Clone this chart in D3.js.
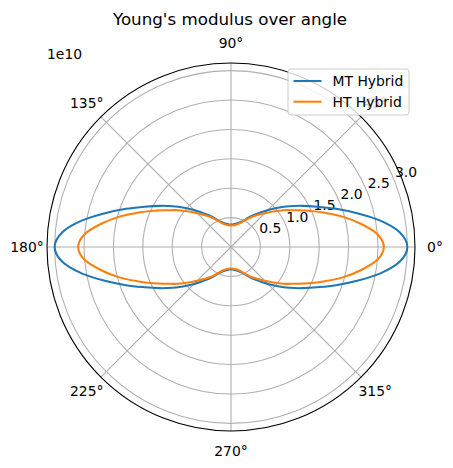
<!DOCTYPE html>
<html>
<head>
<meta charset="utf-8">
<script src="https://cdn.jsdelivr.net/npm/d3@7"></script>
<style>
  body { margin: 0; background: #fff; }
  svg { display: block; font-family: "DejaVu Sans", sans-serif; }
</style>
</head>
<body>
<div id="chart"></div>
<script>
// angles in degrees (ccw from the right), radius in units of 1e10
var angles = d3.range(0, 360, 5);

var mtHybrid = [
  3.00, 2.88, 2.58, 2.22, 1.90, 1.62, 1.40, 1.21, 1.04, 0.89, 0.76, 0.66, 0.57, 0.49, 0.45, 0.42, 0.40, 0.385, 0.38,
  0.385, 0.40, 0.42, 0.45, 0.49, 0.57, 0.66, 0.76, 0.89, 1.04, 1.21, 1.40, 1.62, 1.90, 2.22, 2.58, 2.88,
  3.00, 2.88, 2.58, 2.22, 1.90, 1.62, 1.40, 1.21, 1.04, 0.89, 0.76, 0.66, 0.57, 0.49, 0.45, 0.42, 0.40, 0.385, 0.38,
  0.385, 0.40, 0.42, 0.45, 0.49, 0.57, 0.66, 0.76, 0.89, 1.04, 1.21, 1.40, 1.62, 1.90, 2.22, 2.58, 2.88
];

var htHybrid = [
  2.60, 2.50, 2.25, 1.98, 1.70, 1.46, 1.25, 1.09, 0.94, 0.81, 0.71, 0.63, 0.55, 0.48, 0.43, 0.40, 0.38, 0.37, 0.365,
  0.37, 0.38, 0.40, 0.43, 0.48, 0.55, 0.63, 0.71, 0.81, 0.94, 1.09, 1.25, 1.46, 1.70, 1.98, 2.25, 2.50,
  2.60, 2.50, 2.25, 1.98, 1.70, 1.46, 1.25, 1.09, 0.94, 0.81, 0.71, 0.63, 0.55, 0.48, 0.43, 0.40, 0.38, 0.37, 0.365,
  0.37, 0.38, 0.40, 0.43, 0.48, 0.55, 0.63, 0.71, 0.81, 0.94, 1.09, 1.25, 1.46, 1.70, 1.98, 2.25, 2.50
];

var seriesNames = ["MT Hybrid", "HT Hybrid"];
var seriesColors = ["#1f77b4", "#ff7f0e"];
var rTicks = [0.5, 1.0, 1.5, 2.0, 2.5, 3.0];
var thetaTicks = [0, 45, 90, 135, 180, 225, 270, 315];
var rMax = 3.13;

var width = 453, height = 468,
    cx = 231, cy = 247, outer = 184;

var svg = d3.select("#chart").append("svg")
    .attr("width", width)
    .attr("height", height);

var r = d3.scaleLinear().domain([0, rMax]).range([0, outer]);

// matplotlib angle (deg, ccw from right) -> d3 radial angle (rad, cw from top)
function toRad(deg) { return Math.PI / 2 - deg * Math.PI / 180; }

var g = svg.append("g").attr("transform", "translate(" + cx + "," + cy + ")");

// grid circles
g.selectAll(".rgrid")
    .data(rTicks)
    .enter().append("circle")
    .attr("class", "rgrid")
    .attr("r", function(d) { return r(d); })
    .attr("fill", "none")
    .attr("stroke", "#b0b0b0")
    .attr("stroke-width", 1.1);

// spokes
g.selectAll(".tgrid")
    .data(thetaTicks)
    .enter().append("line")
    .attr("class", "tgrid")
    .attr("x1", 0).attr("y1", 0)
    .attr("x2", function(d) { return outer * Math.cos(d * Math.PI / 180); })
    .attr("y2", function(d) { return -outer * Math.sin(d * Math.PI / 180); })
    .attr("stroke", "#b0b0b0")
    .attr("stroke-width", 1.1);

// angle labels
g.selectAll(".tlabel")
    .data(thetaTicks)
    .enter().append("text")
    .attr("class", "tlabel")
    .attr("x", function(d) { return (outer + 20) * Math.cos(d * Math.PI / 180); })
    .attr("y", function(d) { return -(outer + 20) * Math.sin(d * Math.PI / 180); })
    .attr("dy", "0.35em")
    .attr("text-anchor", "middle")
    .style("font-size", "13.9px")
    .text(function(d) { return d + "°"; });

// radial tick labels at 22.5 deg
var la = 22.5 * Math.PI / 180;
g.selectAll(".rlabel")
    .data(rTicks)
    .enter().append("text")
    .attr("class", "rlabel")
    .attr("x", function(d) { return r(d) * Math.cos(la) + 1; })
    .attr("y", function(d) { return -r(d) * Math.sin(la) - 3; })
    .style("font-size", "13.9px")
    .text(function(d) { return d.toFixed(1); });

// curves
var line = d3.lineRadial()
    .angle(function(d) { return toRad(d[0]); })
    .radius(function(d) { return r(d[1]); })
    .curve(d3.curveCardinalClosed);

[mtHybrid, htHybrid].forEach(function(vals, i) {
  g.append("path")
    .datum(angles.map(function(a, j) { return [a, vals[j]]; }))
    .attr("d", line)
    .attr("fill", "none")
    .attr("stroke", seriesColors[i])
    .attr("stroke-width", 2.08);
});

// outer spine
g.append("circle")
    .attr("r", outer)
    .attr("fill", "none")
    .attr("stroke", "#000")
    .attr("stroke-width", 1.1);

// offset text
svg.append("text")
    .attr("x", 47).attr("y", 59)
    .style("font-size", "13.9px")
    .text("1e10");

// title
svg.append("text")
    .attr("x", 230).attr("y", 25)
    .attr("text-anchor", "middle")
    .style("font-size", "16.7px")
    .text("Young's modulus over angle");

// legend
var leg = svg.append("g").attr("transform", "translate(288,69)");
leg.append("rect")
    .attr("width", 121).attr("height", 46)
    .attr("rx", 3)
    .attr("fill", "#fff").attr("fill-opacity", 0.8)
    .attr("stroke", "#cccccc").attr("stroke-width", 1);
seriesNames.forEach(function(name, i) {
  var y = 12 + i * 20.7;
  leg.append("line")
    .attr("x1", 5.5).attr("x2", 33.5)
    .attr("y1", y).attr("y2", y)
    .attr("stroke", seriesColors[i])
    .attr("stroke-width", 2.08);
  leg.append("text")
    .attr("x", 44.5).attr("y", y)
    .attr("dy", "0.35em")
    .style("font-size", "13.9px")
    .text(name);
});
</script>
</body>
</html>
